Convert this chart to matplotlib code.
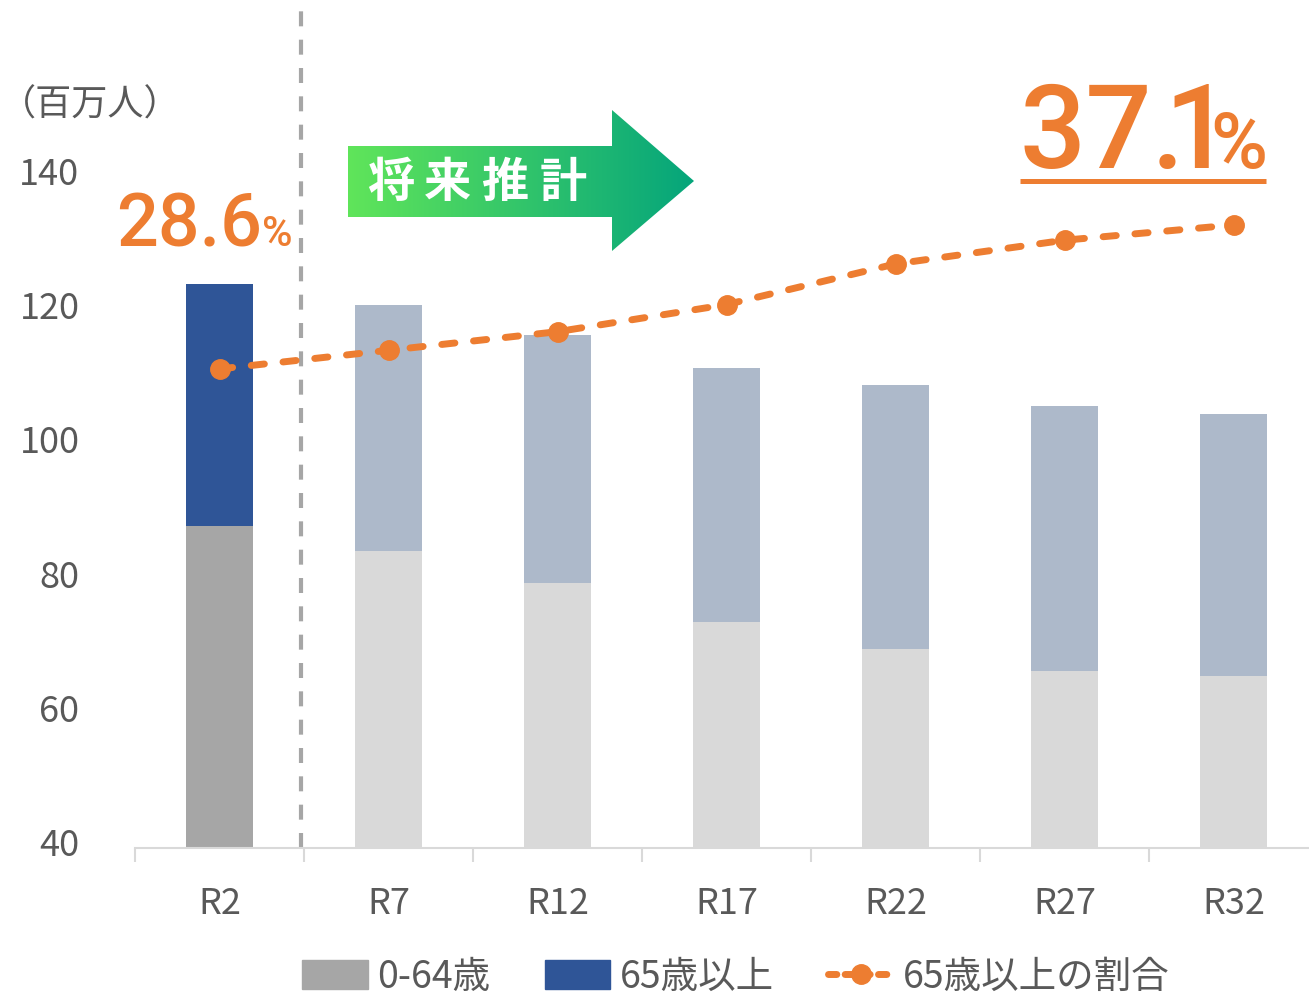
import numpy as np
import matplotlib
matplotlib.use("Agg")
import matplotlib.pyplot as plt
from matplotlib.patches import Polygon, Patch
from matplotlib.lines import Line2D
from matplotlib.colors import LinearSegmentedColormap
from matplotlib.transforms import ScaledTranslation

plt.rcParams["font.family"] = ["Noto Sans CJK JP", "DejaVu Sans"]

# データ（単位：百万人、割合は%）
years = ["R2", "R7", "R12", "R17", "R22", "R27", "R32"]
pop_0_64 = [88.0, 84.3, 79.5, 73.7, 69.7, 66.4, 65.6]
pop_65 = [36.1, 36.6, 37.0, 37.8, 39.3, 39.5, 39.1]
ratio_65 = [28.6, 29.7, 30.8, 32.4, 34.8, 36.2, 37.1]
yticks = [40, 60, 80, 100, 120, 140]

GRAY_TXT = "#595959"
ORANGE = "#ED7D31"
c_young = ["#A6A6A6"] + ["#D9D9D9"] * 6
c_old = ["#2F5597"] + ["#ADB9CA"] * 6

W, H = 1309, 997
fig = plt.figure(figsize=(W / 100, H / 100), dpi=100)

# ---------- 棒グラフ ----------
ax = fig.add_axes([135 / W, (H - 848) / H, 1183 / W, 838 / H])
x = np.arange(len(years))
ax.bar(x, pop_0_64, width=0.4, color=c_young, zorder=2)
ax.bar(x, pop_65, width=0.4, bottom=pop_0_64, color=c_old, zorder=2)
ax.set_xlim(-0.5, len(years) - 0.5)
ax.set_ylim(40, 40 + 838 / 6.71)
ax.set_yticks(yticks)
ax.set_xticks(x)
ax.set_xticklabels(years)
ax.set_xticks(np.arange(-0.5, len(years), 1), minor=True)
ax.tick_params(axis="y", length=0, pad=40, labelsize=26, labelcolor=GRAY_TXT)
ax.tick_params(axis="x", which="major", length=0, pad=27, labelsize=26, labelcolor=GRAY_TXT)
ax.tick_params(axis="x", which="minor", length=10, width=1.5, color="#D9D9D9")
up = ScaledTranslation(0, 6 / 100, fig.dpi_scale_trans)
for lab in ax.get_yticklabels():
    lab.set_transform(lab.get_transform() + up)
for s in ["top", "right", "left"]:
    ax.spines[s].set_visible(False)
ax.spines["bottom"].set_color("#D9D9D9")
ax.spines["bottom"].set_linewidth(1.5)

# 実績と推計の境界
ax.axvline(0.48, color="#A6A6A6", lw=3, dashes=(3.6, 3.2), zorder=1)

# ---------- 割合（第2軸） ----------
ax2 = ax.twinx()
ax2.set_ylim(0.32, 49.79)
ax2.axis("off")
ax2.plot(x, ratio_65, color=ORANGE, lw=5, dashes=(1.9, 2.7), dash_capstyle="round",
         marker="o", markersize=14, zorder=3)

# ---------- 注釈用の全面 axes ----------
ov = fig.add_axes([0, 0, 1, 1], zorder=5)
ov.axis("off")

# 将来推計の矢印（グラデーション）
verts = [(348, 146), (612, 146), (612, 110), (694, 181), (612, 251), (612, 217), (348, 217)]
poly = Polygon(verts, closed=True, facecolor="none", edgecolor="none")
ov.add_patch(poly)
cmap = LinearSegmentedColormap.from_list("arrow", ["#60E55A", "#05A57B"])
grad = np.linspace(0, 1, 256).reshape(1, -1)
im = ov.imshow(grad, cmap=cmap, extent=(348, 694, 251, 110), aspect="auto", interpolation="bicubic")
im.set_clip_path(poly)
for ch, cx in zip("将来推計", [391, 448, 505, 563]):
    ov.text(cx, 183, ch, color="white", fontsize=34, fontweight="bold", ha="center", va="center")

ov.set_xlim(0, W)
ov.set_ylim(H, 0)

# 単位
ov.text(0, 106, "（百万人）", fontsize=26, color=GRAY_TXT, ha="left", va="center")

# 割合の強調ラベル
num_font = ["Roboto", "DejaVu Sans"]
ov.text(262, 246, f"{ratio_65[0]:.1f}", family=num_font, fontsize=53, fontweight="medium",
        color=ORANGE, ha="right", va="baseline")
ov.text(262, 246, "%", family=num_font, fontsize=30, fontweight="medium",
        color=ORANGE, ha="left", va="baseline")
last = f"{ratio_65[-1]:.1f}"
ov.text(1019, 168, last[:-1], family=num_font, fontsize=84, fontweight="medium",
        color=ORANGE, ha="left", va="baseline")
ov.text(1164, 168, last[-1], family=num_font, fontsize=84, fontweight="medium",
        color=ORANGE, ha="left", va="baseline")
ov.text(1210, 168, "%", family=num_font, fontsize=56, fontweight="medium",
        color=ORANGE, ha="left", va="baseline")
ov.plot([1020, 1266], [181, 181], color=ORANGE, lw=3.6, solid_capstyle="butt")

# ---------- 凡例 ----------
handles = [
    Patch(color="#A6A6A6"),
    Patch(color="#2F5597"),
    Line2D([], [], color=ORANGE, lw=5, dashes=(1.2, 1.2), dash_capstyle="round",
           marker="o", markersize=14),
]
fig.legend(handles, ["0-64歳", "65歳以上", "65歳以上の割合"], loc="center",
           bbox_to_anchor=(736 / W, 1 - 977 / H), ncol=3, frameon=False,
           fontsize=27, labelcolor=GRAY_TXT, handlelength=1.75, handleheight=0.85,
           handletextpad=0.25, columnspacing=1.45)

fig.savefig("out.png", dpi=100)
